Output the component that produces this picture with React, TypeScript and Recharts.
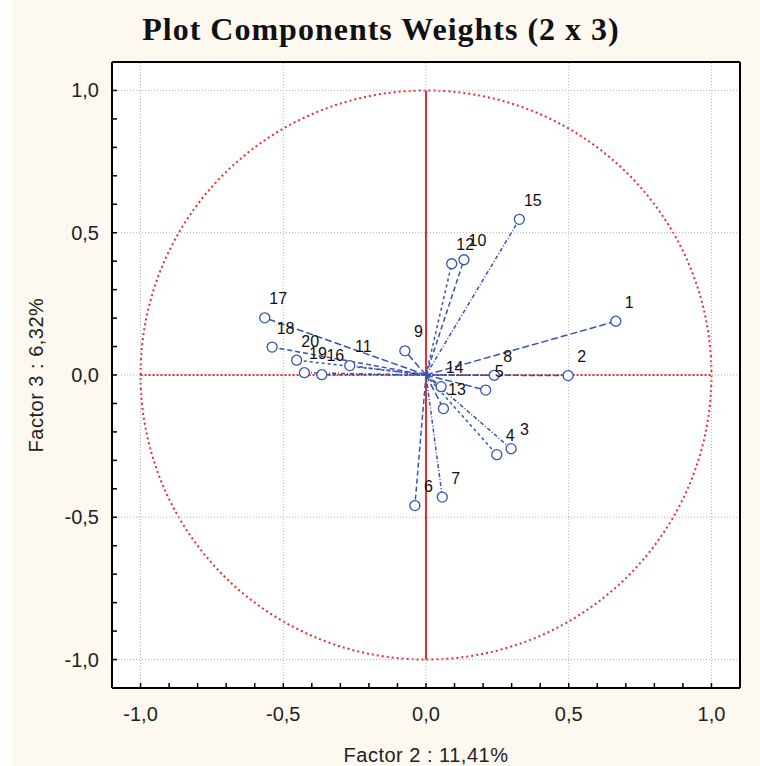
import React from "react";
import {
  ScatterChart,
  Scatter,
  XAxis,
  YAxis,
  ReferenceLine,
  ReferenceArea,
  LabelList,
} from "recharts";

// variable numbers and their loadings on factor 2 (x) and factor 3 (y)
const variables = ["1", "2", "3", "4", "5", "6", "7", "8", "9", "10", "11", "12", "13", "14", "15", "16", "17", "18", "19", "20"];
const factor2 = [0.665, 0.498, 0.298, 0.248, 0.209, -0.039, 0.057, 0.239, -0.074, 0.133, -0.267, 0.09, 0.061, 0.053, 0.327, -0.365, -0.565, -0.539, -0.426, -0.453];
const factor3 = [0.189, -0.002, -0.259, -0.28, -0.053, -0.459, -0.429, -0.001, 0.085, 0.405, 0.033, 0.391, -0.118, -0.041, 0.547, 0.001, 0.201, 0.098, 0.008, 0.052];

const axisTicks = [-1, -0.9, -0.8, -0.7, -0.6, -0.5, -0.4, -0.3, -0.2, -0.1, 0, 0.1, 0.2, 0.3, 0.4, 0.5, 0.6, 0.7, 0.8, 0.9, 1];
const gridValues = [-1, -0.5, 0, 0.5, 1];

const points = variables.map((name, i) => ({ name, x: factor2[i], y: factor3[i] }));

const BLUE = "#3653b3";
const RED = "#ee2b2b";
const GRID = "#b4b4b4";
const SANS = "'Liberation Sans', Arial, sans-serif";
const dashes = ["7 3", "5 3", "4 2 1 2", "3 3"];

const isMajor = (v: number) => Math.abs(v * 2 - Math.round(v * 2)) < 1e-6;
const fmt = (v: number) => (Math.abs(v) < 1e-9 ? 0 : v).toFixed(1).replace(".", ",");

function BottomTick({ x, y, payload }: any) {
  const v = payload.value as number;
  return (
    <g>
      <line x1={x} x2={x} y1={y} y2={y - 5} stroke="#000" strokeWidth={1.5} />
      {isMajor(v) && (
        <text x={x} y={y + 33} textAnchor="middle" fontFamily={SANS} fontSize={20} fill="#222">
          {fmt(v)}
        </text>
      )}
    </g>
  );
}

function LeftTick({ x, y, payload }: any) {
  const v = payload.value as number;
  return (
    <g>
      <line x1={x} x2={x + 5} y1={y} y2={y} stroke="#000" strokeWidth={1.5} />
      {isMajor(v) && (
        <text x={x - 13} y={y + 7} textAnchor="end" fontFamily={SANS} fontSize={20} fill="#222">
          {fmt(v)}
        </text>
      )}
    </g>
  );
}

function TopTick({ x, y }: any) {
  return <line x1={x} x2={x} y1={y} y2={y + 5} stroke="#000" strokeWidth={1.5} />;
}

function RightTick({ x, y }: any) {
  return <line x1={x} x2={x - 5} y1={y} y2={y} stroke="#000" strokeWidth={1.5} />;
}

function Marker({ cx, cy }: any) {
  if (cx == null || cy == null) return null;
  return <circle cx={cx} cy={cy} r={5} fill="#fff" stroke={BLUE} strokeWidth={1.3} />;
}

function PointLabel({ x, y, value }: any) {
  return (
    <text x={x + 18} y={y - 9} textAnchor="middle" fontFamily={SANS} fontSize={16} fill="#111">
      {value}
    </text>
  );
}

function UnitCircle({ x, y, width, height }: any) {
  return (
    <ellipse
      cx={x + width / 2}
      cy={y + height / 2}
      rx={width / 2}
      ry={height / 2}
      fill="none"
      stroke={RED}
      strokeWidth={2}
      strokeDasharray="2 3"
    />
  );
}

const axisLine = { stroke: "#000", strokeWidth: 2 };

export default function App() {
  return (
    <div style={{ position: "absolute", left: 0, top: 0, width: 760, height: 766, background: "#fff" }}>
      <div style={{ position: "absolute", left: 12, top: 0, width: 748, height: 766, background: "#fdf9f1" }} />
      <div style={{ position: "absolute", left: 112, top: 62, width: 628, height: 626, background: "#fff" }} />
      <svg style={{ position: "absolute", left: 0, top: 0 }} width={760} height={62}>
        <text
          x={381}
          y={40}
          textAnchor="middle"
          fontFamily="'Liberation Serif', 'Times New Roman', serif"
          fontWeight="bold"
          fontSize={32}
          letterSpacing={1}
          fill="#111"
        >
          Plot Components Weights (2 x 3)
        </text>
      </svg>
      <div style={{ position: "absolute", left: 0, top: 0 }}>
        <ScatterChart width={760} height={766} margin={{ top: 61, right: 19, bottom: 0, left: 0 }}>
          <XAxis
            type="number"
            dataKey="x"
            domain={[-1.1, 1.1]}
            ticks={axisTicks}
            interval={0}
            tickSize={0}
            tickMargin={0}
            height={78}
            axisLine={axisLine}
            tickLine={false}
            tick={<BottomTick />}
            label={{
              content: ({ viewBox }: any) => (
                <text
                  x={viewBox.x + viewBox.width / 2}
                  y={viewBox.y + 74}
                  textAnchor="middle"
                  fontFamily={SANS}
                  fontSize={20}
                  letterSpacing={0.5}
                  fill="#222"
                >
                  Factor 2 : 11,41%
                </text>
              ),
            }}
          />
          <XAxis
            xAxisId="top"
            orientation="top"
            type="number"
            dataKey="x"
            domain={[-1.1, 1.1]}
            ticks={axisTicks}
            interval={0}
            tickSize={0}
            tickMargin={0}
            height={1}
            axisLine={axisLine}
            tickLine={false}
            tick={<TopTick />}
          />
          <YAxis
            type="number"
            dataKey="y"
            domain={[-1.1, 1.1]}
            ticks={axisTicks}
            interval={0}
            tickSize={0}
            tickMargin={0}
            width={112}
            axisLine={axisLine}
            tickLine={false}
            tick={<LeftTick />}
            label={{
              content: ({ viewBox }: any) => {
                const cx = viewBox.x + 36;
                const cy = viewBox.y + viewBox.height / 2;
                return (
                  <text
                    x={cx}
                    y={cy}
                    transform={`rotate(-90, ${cx}, ${cy})`}
                    textAnchor="middle"
                    dominantBaseline="central"
                    fontFamily={SANS}
                    fontSize={20}
                    letterSpacing={0.5}
                    fill="#222"
                  >
                    Factor 3 :  6,32%
                  </text>
                );
              },
            }}
          />
          <YAxis
            yAxisId="right"
            orientation="right"
            type="number"
            dataKey="y"
            domain={[-1.1, 1.1]}
            ticks={axisTicks}
            interval={0}
            tickSize={0}
            tickMargin={0}
            width={1}
            axisLine={axisLine}
            tickLine={false}
            tick={<RightTick />}
          />

          {gridValues.map((v) => (
            <ReferenceLine key={`gx${v}`} x={v} stroke={GRID} strokeWidth={1} strokeDasharray="1 2" />
          ))}
          {gridValues.map((v) => (
            <ReferenceLine key={`gy${v}`} y={v} stroke={GRID} strokeWidth={1} strokeDasharray="1 2" />
          ))}

          <ReferenceArea x1={-1} x2={1} y1={-1} y2={1} shape={<UnitCircle />} />
          <ReferenceLine
            segment={[{ x: -1, y: 0 }, { x: 1, y: 0 }]}
            stroke={RED}
            strokeWidth={2}
            strokeDasharray="2 2"
          />
          <ReferenceLine segment={[{ x: 0, y: -1 }, { x: 0, y: 1 }]} stroke={RED} strokeWidth={2} />

          {points.map((p, i) => (
            <ReferenceLine
              key={`v${p.name}`}
              segment={[{ x: 0, y: 0 }, { x: p.x, y: p.y }]}
              stroke={BLUE}
              strokeWidth={1.5}
              strokeDasharray={dashes[i % dashes.length]}
            />
          ))}

          <Scatter data={points} shape={<Marker />} isAnimationActive={false}>
            <LabelList dataKey="name" content={<PointLabel />} />
          </Scatter>
        </ScatterChart>
      </div>
    </div>
  );
}
